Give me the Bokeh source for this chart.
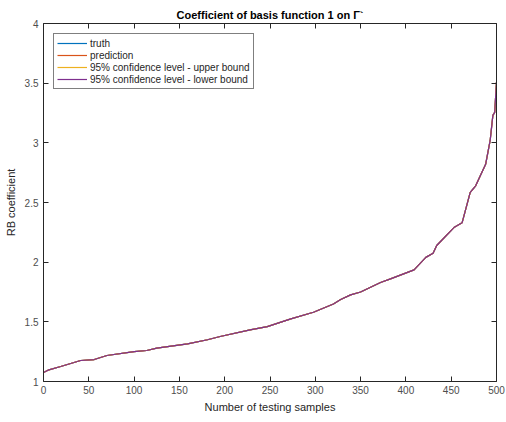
from bokeh.plotting import figure
from bokeh.models import LinearAxis, Range1d, Legend, LegendItem, FixedTicker
from bokeh.embed import file_html
from bokeh.resources import INLINE

# Test sample index (sorted by coefficient) and RB coefficient values
samples = [0, 5, 19, 41, 56, 70, 100, 114, 125, 159, 181, 195, 228, 247, 273,
           298, 320, 328, 339, 350, 372, 383, 409, 422, 430, 434, 453, 462,
           471, 477, 488, 493, 496, 498, 500]
truth = [1.075, 1.095, 1.126, 1.176, 1.184, 1.218, 1.251, 1.26, 1.28, 1.316,
         1.35, 1.377, 1.433, 1.46, 1.525, 1.58, 1.65, 1.687, 1.726, 1.75,
         1.83, 1.86, 1.935, 2.04, 2.075, 2.14, 2.29, 2.33, 2.585, 2.64, 2.82,
         3.02, 3.23, 3.255, 3.51]
prediction = list(truth)
upper_bound = list(truth)
lower_bound = list(truth)

x_ticks = [0, 50, 100, 150, 200, 250, 300, 350, 400, 450, 500]
y_ticks = [1, 1.5, 2, 2.5, 3, 3.5, 4]

FONT = "Liberation Sans"
AX = "#262626"

p = figure(width=506, height=422, output_backend="svg", toolbar_location=None,
           x_range=Range1d(0, 500), y_range=Range1d(1, 4),
           min_border_left=43, min_border_right=10, min_border_top=23,
           min_border_bottom=41, background_fill_color="white",
           border_fill_color="white", outline_line_color=None)

p.title.text = "Coefficient of basis function 1 on Γ`"
p.title.text_font = FONT
p.title.text_font_size = "11px"
p.title.text_font_style = "bold"
p.title.align = "center"
p.title.text_color = "#000000"
p.title.offset = 0
p.title.standoff = 5

p.xgrid.visible = False
p.ygrid.visible = False

def style(ax, labels=True):
    ax.axis_line_color = AX
    ax.axis_line_width = 1
    ax.major_tick_in = 5
    ax.major_tick_out = 0
    ax.minor_tick_line_color = None
    ax.major_tick_line_color = AX
    ax.major_label_text_font = FONT
    ax.major_label_text_font_size = "10px"
    ax.major_label_text_color = "#4d4d4d"
    ax.axis_label_text_font = FONT
    ax.axis_label_text_font_size = "11px"
    ax.axis_label_text_font_style = "normal"
    ax.axis_label_text_color = AX
    if not labels:
        ax.major_label_text_alpha = 0
        ax.major_label_text_font_size = "1px"
        ax.major_label_standoff = 0

xa = p.xaxis[0]
ya = p.yaxis[0]
xa.ticker = FixedTicker(ticks=x_ticks)
ya.ticker = FixedTicker(ticks=y_ticks)
xa.axis_label = "Number of testing samples"
ya.axis_label = "RB coefficient"
style(xa)
style(ya)
xa.major_label_standoff = 4
ya.major_label_standoff = 5
xa.axis_label_standoff = 4
ya.axis_label_standoff = 5

top = LinearAxis(ticker=FixedTicker(ticks=x_ticks))
right = LinearAxis(ticker=FixedTicker(ticks=y_ticks))
style(top, labels=False)
style(right, labels=False)
p.add_layout(top, "above")
p.add_layout(right, "right")

colors = ["#0072BD", "#D95319", "#EDB120", "#7E2F8E"]
names = ["truth", "prediction", "95% confidence level - upper bound",
         "95% confidence level - lower bound"]
series = [truth, prediction, upper_bound, lower_bound]
items = []
for ys, c, n in zip(series, colors, names):
    r = p.line(samples, ys, line_color=c, line_width=1.2)
    items.append(LegendItem(label=n, renderers=[r]))

legend = Legend(items=items, location="top_left", margin=10, padding=3,
                spacing=0, label_height=12, glyph_height=12, glyph_width=30,
                label_standoff=3, label_text_font=FONT,
                label_text_font_size="10px", label_text_color="#262626",
                border_line_color="#000000", border_line_width=1,
                background_fill_alpha=1)
p.add_layout(legend, "center")

open("out.html", "w").write(file_html(p, INLINE))
